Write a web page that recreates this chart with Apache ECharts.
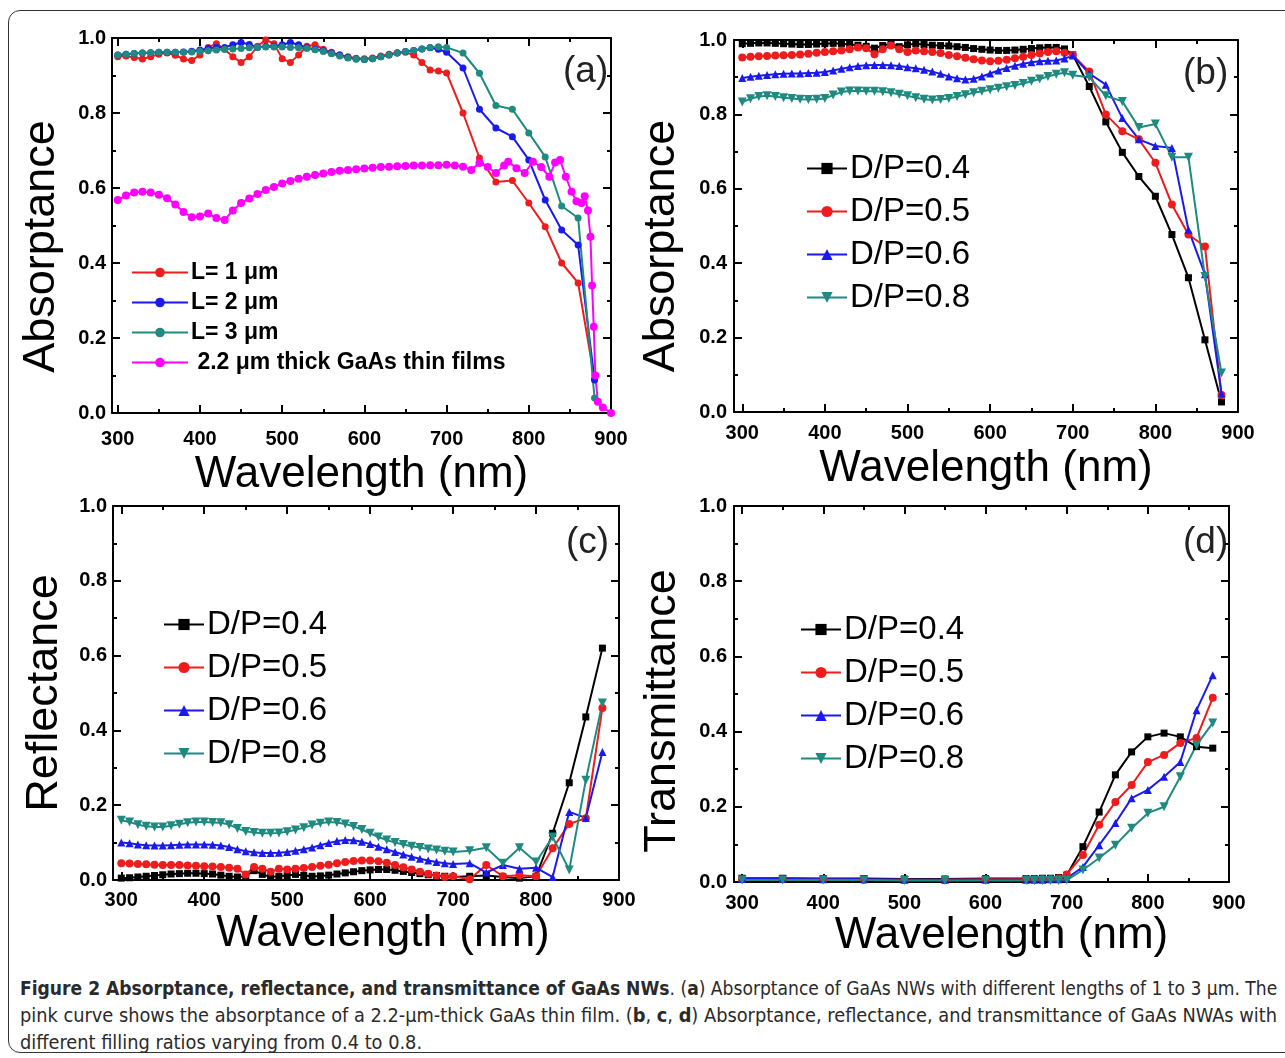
<!DOCTYPE html>
<html>
<head>
<meta charset="utf-8">
<script src="https://cdn.jsdelivr.net/npm/echarts@6/dist/echarts.min.js"></script>
<style>
html,body{margin:0;padding:0;background:#fff;}
#frame{position:absolute;left:8px;top:10px;width:1290px;height:1043px;border:1.5px solid #333;border-radius:12px;box-sizing:border-box;}
#chart{position:absolute;left:0;top:0;width:1285px;height:965px;}
#caption{position:absolute;left:20px;top:975px;width:1257px;font-family:"Liberation Sans Narrow","Arial Narrow","DejaVu Sans Condensed","Liberation Sans",Arial,sans-serif;font-stretch:condensed;font-size:19px;color:#2a2a2a;line-height:27px;}
#caption .ln{white-space:nowrap;height:27px;}
#caption .ln span{display:inline-block;transform-origin:0 50%;}
#caption b{font-weight:bold;}
</style>
</head>
<body>
<div id="frame"></div>
<div id="chart"></div>
<div id="caption">
<div class="ln"><span><b>Figure 2 Absorptance, reflectance, and transmittance of GaAs NWs</b>. (<b>a</b>) Absorptance of GaAs NWs with different lengths of 1 to 3 μm. The</span></div>
<div class="ln"><span>pink curve shows the absorptance of a 2.2-μm-thick GaAs thin film. (<b>b</b>, <b>c</b>, <b>d</b>) Absorptance, reflectance, and transmittance of GaAs NWAs with</span></div>
<div class="ln"><span>different filling ratios varying from 0.4 to 0.8.</span></div>
</div>
<script>
// ---------- tick labels ----------
const xTickLabels = [300, 400, 500, 600, 700, 800, 900];
const xMinorTicks = [350, 450, 550, 650, 750, 850];
const yTickLabels = [0.0, 0.2, 0.4, 0.6, 0.8, 1.0];

// ---------- panel (a): absorptance vs NW length ----------
const aFlatX = [300,310,320,330,340,350,360,370,380,390,400,410,420,430,440,450,460,470,480,490,500,510,520,530,540,550,560,570,580,590,600,610,620,630,640,650,660,670,680,690,700];
const aTailX = [720,740,760,780,800,820,840,860,880];
const aL1 = [.950,.952,.948,.944,.950,.957,.960,.954,.944,.940,.955,.975,.985,.970,.950,.935,.950,.978,.995,.985,.945,.935,.955,.978,.982,.970,.962,.955,.950,.946,.945,.947,.952,.957,.961,.962,.955,.935,.915,.912,.907,
             .800,.680,.616,.620,.560,.497,.400,.347,.090];
const aL2 = [.955,.957,.959,.960,.961,.962,.962,.962,.963,.965,.968,.972,.975,.975,.982,.988,.983,.975,.978,.978,.982,.988,.982,.974,.970,.966,.960,.955,.948,.944,.943,.945,.950,.955,.960,.964,.967,.971,.974,.970,.962,
             .920,.810,.760,.737,.675,.568,.488,.448,.088];
const aL3 = [.955,.957,.959,.960,.961,.962,.962,.962,.962,.963,.965,.966,.968,.970,.971,.972,.974,.975,.976,.976,.976,.975,.974,.972,.969,.964,.958,.952,.947,.944,.943,.945,.950,.955,.960,.964,.967,.971,.975,.977,.975,
             .960,.906,.820,.810,.747,.683,.552,.520,.040];
const aFilmX = [300,310,320,330,340,350,360,370,380,390,400,410,420,430,440,450,460,470,480,490,500,510,520,530,540,550,560,570,580,590,600,610,620,630,640,650,660,670,680,690,700,710,720,730,740,750,760,770,775,785,795,805,815,825,832,838,845,852,858,864,868,872,875,877,879,881,884,890,900];
const aFilm = [.568,.580,.588,.590,.588,.582,.573,.556,.536,.522,.524,.532,.520,.515,.540,.560,.572,.584,.595,.603,.612,.619,.625,.630,.635,.639,.643,.646,.648,.650,.652,.654,.656,.657,.658,.659,.660,.660,.661,.661,.662,.660,.657,.648,.667,.656,.640,.660,.670,.653,.640,.670,.656,.630,.668,.675,.630,.590,.565,.560,.578,.540,.470,.340,.230,.100,.030,.015,.000];

// ---------- panel (b): absorptance vs D/P ----------
const bFlatX = aFlatX;
const bTailX = [720,740,760,780,800,820,840,860,880];
const bDP4 = [.990,.991,.992,.992,.991,.990,.989,.988,.988,.989,.990,.991,.990,.988,.986,.983,.978,.985,.990,.982,.987,.990,.988,.986,.985,.984,.982,.980,.977,.975,.973,.972,.972,.973,.975,.977,.979,.980,.980,.976,.960,
              .875,.780,.698,.633,.580,.477,.361,.194,.027];
const bDP5 = [.953,.955,.956,.957,.958,.959,.960,.961,.963,.966,.968,.970,.972,.975,.980,.978,.962,.975,.985,.975,.968,.972,.970,.968,.965,.960,.956,.952,.948,.945,.943,.944,.947,.951,.955,.960,.964,.968,.970,.966,.960,
              .915,.800,.755,.733,.670,.558,.477,.445,.046];
const bDP6 = [.898,.901,.904,.906,.908,.909,.910,.910,.911,.912,.914,.918,.923,.927,.930,.932,.933,.933,.932,.930,.927,.924,.920,.915,.909,.902,.897,.894,.896,.902,.910,.918,.925,.931,.936,.940,.943,.944,.945,.950,.958,
              .910,.880,.790,.733,.715,.710,.490,.370,.050];
const bDP8 = [.833,.842,.848,.850,.848,.845,.843,.841,.840,.841,.843,.852,.860,.863,.863,.862,.862,.861,.858,.854,.850,.845,.841,.839,.840,.843,.848,.853,.858,.862,.866,.870,.874,.878,.883,.889,.895,.902,.908,.912,.905,
              .900,.850,.835,.765,.774,.685,.685,.364,.105];

// ---------- panel (c): reflectance ----------
const cFlatX = aFlatX;
const cTailX = [720,740,760,780,800,820,840,860,880];
const cDP4 = [.005,.006,.008,.010,.012,.014,.016,.017,.018,.018,.017,.016,.013,.010,.008,.010,.025,.015,.008,.010,.012,.015,.012,.010,.011,.013,.016,.019,.022,.025,.027,.028,.028,.026,.023,.020,.017,.014,.012,.010,.008,
              .010,.012,.008,.005,.010,.125,.260,.436,.620];
const cDP5 = [.045,.044,.043,.042,.041,.040,.040,.040,.039,.038,.037,.036,.035,.033,.030,.015,.035,.030,.022,.030,.028,.030,.032,.035,.038,.041,.045,.048,.051,.052,.052,.050,.046,.040,.034,.028,.022,.017,.012,.008,.010,
              .002,.040,.010,.013,.010,.085,.150,.165,.460];
const cDP6 = [.100,.098,.095,.093,.092,.092,.093,.094,.095,.095,.095,.094,.092,.088,.082,.077,.074,.072,.072,.073,.075,.078,.082,.087,.093,.099,.104,.107,.106,.102,.096,.089,.082,.075,.068,.062,.057,.052,.048,.045,.043,
              .045,.020,.040,.030,.033,.008,.182,.166,.342];
const cDP8 = [.160,.155,.148,.144,.142,.142,.145,.149,.153,.155,.155,.154,.153,.148,.138,.130,.127,.125,.125,.126,.129,.134,.140,.147,.152,.155,.154,.150,.143,.135,.125,.115,.107,.100,.095,.090,.087,.083,.080,.077,.075,
              .078,.086,.045,.086,.048,.115,.027,.267,.473];

// ---------- panel (d): transmittance ----------
const dX = [300,350,400,450,500,550,600,650,660,670,680,690,700,720,740,760,780,800,820,840,860,880];
const dDP4 = [.010,.010,.009,.009,.008,.008,.009,.009,.009,.010,.010,.012,.018,.094,.186,.285,.346,.386,.396,.386,.360,.356];
const dDP5 = [.007,.007,.007,.006,.006,.006,.007,.007,.007,.008,.008,.010,.020,.072,.152,.213,.258,.319,.338,.370,.383,.490];
const dDP6 = [.008,.008,.007,.007,.006,.006,.006,.006,.006,.006,.007,.007,.010,.040,.098,.157,.223,.245,.280,.319,.457,.550];
const dDP8 = [.005,.005,.005,.005,.004,.004,.004,.004,.004,.004,.004,.004,.005,.032,.064,.098,.143,.183,.200,.280,.364,.423];

// ---------- helpers ----------
const zip = (xs, ys) => xs.map((x, i) => [x, ys[i]]);
const RED = '#ee1c1c', BLUE = '#1a1aee', TEAL = '#1f8a80', MAG = '#ff00ff', BLK = '#000000';
const FONT = '"Liberation Sans", Arial, sans-serif';

const grids = [
  {left: 112, top: 38, width: 499, height: 375, xmin: 293, yname: 'Absorptance', xGap: 40, yGap: 48, xPad: 0, yPad: 42, xMargin: 16, yMargin: 6},
  {left: 734, top: 40, width: 504, height: 372, xmin: 290, yname: 'Absorptance', xGap: 35, yGap: 50, xPad: 0, yPad: 40, xMargin: 11, yMargin: 7},
  {left: 113, top: 506, width: 506, height: 374, xmin: 290, yname: 'Reflectance', xGap: 32, yGap: 46, xPad: 34, yPad: 0, xMargin: 10, yMargin: 6},
  {left: 734, top: 506, width: 495, height: 376, xmin: 290, yname: 'Transmittance', xGap: 30, yGap: 49, xPad: 40, yPad: 34, xMargin: 11, yMargin: 7}
];

const xAxes = [], yAxes = [], gridOpts = [];
grids.forEach((g, gi) => {
  gridOpts.push({left: g.left, top: g.top, width: g.width, height: g.height, containLabel: false});
  const base = {type: 'value', gridIndex: gi, min: g.xmin, max: 900, splitLine: {show: false}};
  const tickStyle = {color: '#000', width: 2};
  xAxes.push(Object.assign({}, base, {
    position: 'bottom',
    axisLine: {show: true, onZero: false, lineStyle: {color: '#000', width: 2}},
    axisTick: {show: true, inside: true, length: 8, lineStyle: tickStyle, customValues: xTickLabels},
    axisLabel: {show: true, customValues: xTickLabels, margin: g.xMargin, color: '#000', fontFamily: FONT, fontWeight: 'bold', fontSize: 20},
    name: 'Wavelength (nm)', nameLocation: 'middle', nameGap: g.xGap,
    nameTextStyle: {fontFamily: FONT, fontSize: 44, color: '#000', padding: [0, 0, 0, g.xPad]}
  }));
  xAxes.push(Object.assign({}, base, {
    position: 'bottom', axisLine: {show: false, onZero: false},
    axisTick: {show: true, inside: true, length: 4, lineStyle: tickStyle, customValues: xMinorTicks},
    axisLabel: {show: false}
  }));
  xAxes.push(Object.assign({}, base, {
    position: 'top',
    axisLine: {show: true, onZero: false, lineStyle: {color: '#000', width: 2}},
    axisTick: {show: true, inside: true, length: 8, lineStyle: tickStyle, customValues: xTickLabels},
    axisLabel: {show: false}
  }));
  xAxes.push(Object.assign({}, base, {
    position: 'top', axisLine: {show: false, onZero: false},
    axisTick: {show: true, inside: true, length: 4, lineStyle: tickStyle, customValues: xMinorTicks},
    axisLabel: {show: false}
  }));
  const ybase = {type: 'value', gridIndex: gi, min: 0, max: 1, interval: 0.2, splitLine: {show: false},
    minorTick: {show: true, splitNumber: 2, length: 4, lineStyle: {color: '#000', width: 2}}};
  yAxes.push(Object.assign({}, ybase, {
    position: 'left',
    axisLine: {show: true, onZero: false, lineStyle: {color: '#000', width: 2}},
    axisTick: {show: true, inside: true, length: 8, lineStyle: tickStyle},
    axisLabel: {show: true, margin: g.yMargin, color: '#000', fontFamily: FONT, fontWeight: 'bold', fontSize: 20,
      formatter: v => v.toFixed(1)},
    name: g.yname, nameLocation: 'middle', nameGap: g.yGap,
    nameTextStyle: {fontFamily: FONT, fontSize: 45, color: '#000', padding: [0, g.yPad, 0, 0]}
  }));
  yAxes.push(Object.assign({}, ybase, {
    position: 'right',
    axisLine: {show: true, onZero: false, lineStyle: {color: '#000', width: 2}},
    axisTick: {show: true, inside: true, length: 8, lineStyle: tickStyle},
    axisLabel: {show: false}
  }));
});

function mk(gi, name, xs, ys, color, symbol, size, rot) {
  return {
    type: 'line', name: name, xAxisIndex: gi * 4, yAxisIndex: gi * 2,
    data: zip(xs, ys), color: color, symbol: symbol, symbolSize: size, symbolRotate: rot || 0,
    showSymbol: true, showAllSymbol: true, animation: false,
    lineStyle: {width: 2, color: color}, itemStyle: {color: color}
  };
}
const DP = ['D/P=0.4', 'D/P=0.5', 'D/P=0.6', 'D/P=0.8'];
const series = [
  mk(0, 'L= 1 μm', aFlatX.concat(aTailX), aL1, RED, 'circle', 7),
  mk(0, 'L= 2 μm', aFlatX.concat(aTailX), aL2, BLUE, 'circle', 7),
  mk(0, 'L= 3 μm', aFlatX.concat(aTailX), aL3, TEAL, 'circle', 7),
  mk(0, ' 2.2 μm thick GaAs thin films', aFilmX, aFilm, MAG, 'circle', 8),
  mk(1, DP[0], bFlatX.concat(bTailX), bDP4, BLK, 'rect', 7),
  mk(1, DP[1], bFlatX.concat(bTailX), bDP5, RED, 'circle', 8),
  mk(1, DP[2], bFlatX.concat(bTailX), bDP6, BLUE, 'triangle', 8),
  mk(1, DP[3], bFlatX.concat(bTailX), bDP8, TEAL, 'triangle', 9, 180),
  mk(2, DP[0], cFlatX.concat(cTailX), cDP4, BLK, 'rect', 7),
  mk(2, DP[1], cFlatX.concat(cTailX), cDP5, RED, 'circle', 8),
  mk(2, DP[2], cFlatX.concat(cTailX), cDP6, BLUE, 'triangle', 8),
  mk(2, DP[3], cFlatX.concat(cTailX), cDP8, TEAL, 'triangle', 9, 180),
  mk(3, DP[0], dX, dDP4, BLK, 'rect', 7),
  mk(3, DP[1], dX, dDP5, RED, 'circle', 8),
  mk(3, DP[2], dX, dDP6, BLUE, 'triangle', 8),
  mk(3, DP[3], dX, dDP8, TEAL, 'triangle', 9, 180)
];

const dpLegend = (left, top) => ({
  data: DP, left: left, top: top, orient: 'vertical', itemWidth: 40, itemHeight: 14, itemGap: 10,
  selectedMode: false, textStyle: {fontFamily: FONT, fontSize: 33, color: '#000', padding: [0, 0, 0, -2]}
});
const legends = [
  {data: ['L= 1 μm', 'L= 2 μm', 'L= 3 μm', ' 2.2 μm thick GaAs thin films'], left: 126, top: 256, orient: 'vertical',
   itemWidth: 56, itemHeight: 12, itemGap: 7, selectedMode: false,
   textStyle: {fontFamily: FONT, fontSize: 23, fontWeight: 'bold', color: '#000', padding: [0, 0, 0, -2]}},
  dpLegend(801, 147),
  dpLegend(158, 603),
  dpLegend(795, 608)
];

const panelLabel = (txt, x, y) => ({type: 'text', left: x, top: y, style: {text: txt, font: '37px "Liberation Sans", Arial, sans-serif', fill: '#222'}});

const chart = echarts.init(document.getElementById('chart'), null, {renderer: 'canvas'});
chart.setOption({
  animation: false,
  backgroundColor: 'transparent',
  grid: gridOpts,
  xAxis: xAxes,
  yAxis: yAxes,
  legend: legends,
  series: series,
  graphic: [
    panelLabel('(a)', 563, 53),
    panelLabel('(b)', 1183, 55),
    panelLabel('(c)', 566, 524),
    panelLabel('(d)', 1183, 524)
  ]
});

// fit the caption lines to the text block width (justified look, condensed face)
function fitCaption() {
  const spans = document.querySelectorAll('#caption .ln span');
  const target = 1257;
  const w1 = spans[0].offsetWidth;
  const w2 = spans[1].offsetWidth;
  const s1 = target / w1, s2 = target / w2;
  spans[0].style.transform = 'scaleX(' + s1 + ')';
  spans[1].style.transform = 'scaleX(' + s2 + ')';
  spans[2].style.transform = 'scaleX(' + s2 + ')';
}
fitCaption();
if (document.fonts && document.fonts.ready) document.fonts.ready.then(fitCaption);
</script>
</body>
</html>
